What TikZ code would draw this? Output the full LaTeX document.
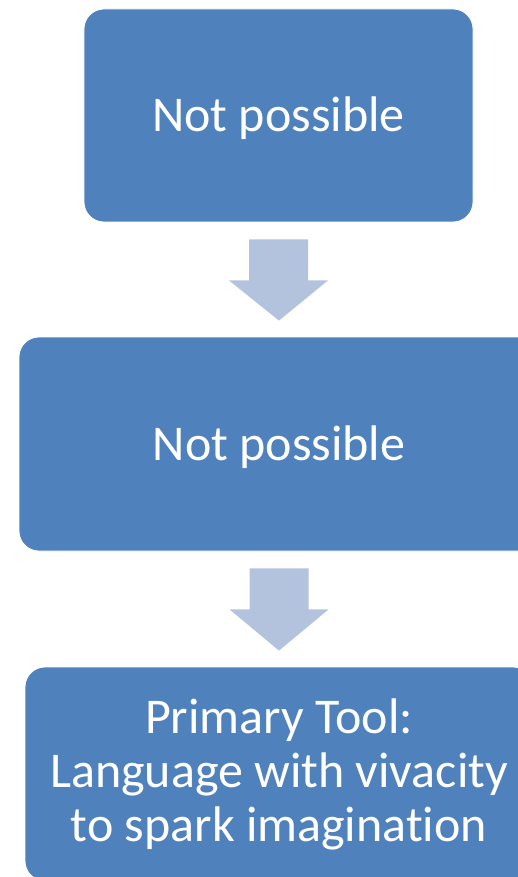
\documentclass[tikz,border=0pt]{standalone}
\usepackage{fontspec}
\setmainfont{Carlito}[Ligatures=NoCommon]
\usetikzlibrary{calc}
\definecolor{boxblue}{HTML}{4F81BD}
\definecolor{arrowblue}{HTML}{B3C3DE}
\tikzset{
  flowbox/.style={draw=white, line width=0.8pt, fill=boxblue, rounded corners=20pt,
    text=white, align=center, font=\fontsize{50}{54}\selectfont, inner sep=0pt},
  blockarrow/.style={fill=arrowblue, draw=none}
}
\newcommand{\lowertext}[1]{\raisebox{-3pt}[\height][\depth]{#1}}
\begin{document}
\begin{tikzpicture}[x=1pt,y=-1pt]
\useasboundingbox (0,0) rectangle (518,877);
\clip (0,0) rectangle (518,877);
\node[flowbox, minimum width=389pt, minimum height=213pt] (b1) at (278.5,115.5) {\lowertext{Not possible}};
\node[flowbox, minimum width=520pt, minimum height=214pt] (b2) at (279,444) {\lowertext{Not possible}};
\node[flowbox, minimum width=508pt, minimum height=214pt] (b3) at (279,774)
  {Primary Tool:\\Language with vivacity\\to spark imagination};
% block arrows between boxes
\foreach \u/\v in {b1/b2, b2/b3}{
  \coordinate (s) at ($(\u.south)+(0,17)$);
  \coordinate (t) at ($(\v.north)+(0,-16)$);
  \fill[blockarrow] ($(s)+(-29.5,0)$) -- ($(s)+(29.5,0)$) -- ($(s)+(29.5,41)$)
    -- ($(s)+(49.5,41)$) -- (t) -- ($(s)+(-49.5,41)$) -- ($(s)+(-29.5,41)$) -- cycle;
}
\end{tikzpicture}
\end{document}
